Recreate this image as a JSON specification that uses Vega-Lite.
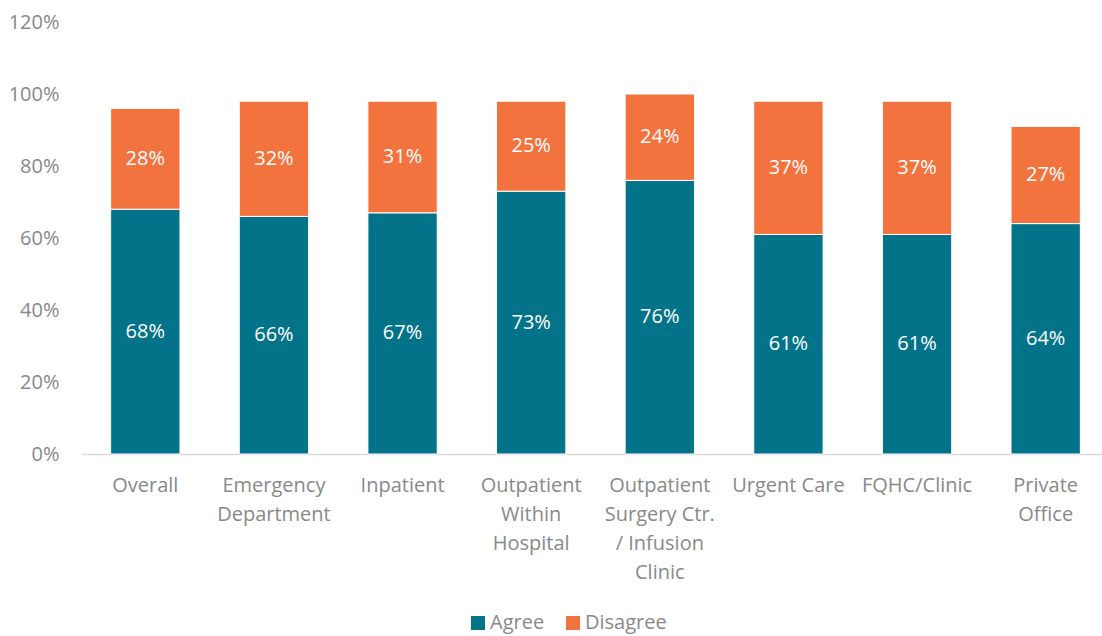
{
  "$schema": "https://vega.github.io/schema/vega-lite/v6.json",
  "autosize": "none",
  "width": 1029,
  "height": 432,
  "padding": {"left": 81, "top": 22, "right": 0, "bottom": 182},
  "background": "white",
  "config": {
    "view": {"stroke": null},
    "font": "Open Sans"
  },
  "data": {
    "values": [
      {"cat": "Overall", "resp": "Agree", "value": 0.68},
      {"cat": "Overall", "resp": "Disagree", "value": 0.28},
      {"cat": "Emergency Department", "resp": "Agree", "value": 0.66},
      {"cat": "Emergency Department", "resp": "Disagree", "value": 0.32},
      {"cat": "Inpatient", "resp": "Agree", "value": 0.67},
      {"cat": "Inpatient", "resp": "Disagree", "value": 0.31},
      {"cat": "Outpatient Within Hospital", "resp": "Agree", "value": 0.73},
      {"cat": "Outpatient Within Hospital", "resp": "Disagree", "value": 0.25},
      {"cat": "Outpatient Surgery Ctr. / Infusion Clinic", "resp": "Agree", "value": 0.76},
      {"cat": "Outpatient Surgery Ctr. / Infusion Clinic", "resp": "Disagree", "value": 0.24},
      {"cat": "Urgent Care", "resp": "Agree", "value": 0.61},
      {"cat": "Urgent Care", "resp": "Disagree", "value": 0.37},
      {"cat": "FQHC/Clinic", "resp": "Agree", "value": 0.61},
      {"cat": "FQHC/Clinic", "resp": "Disagree", "value": 0.37},
      {"cat": "Private Office", "resp": "Agree", "value": 0.64},
      {"cat": "Private Office", "resp": "Disagree", "value": 0.27}
    ]
  },
  "encoding": {
    "x": {
      "field": "cat",
      "type": "nominal",
      "sort": null,
      "scale": {"paddingInner": 0.461, "paddingOuter": 0.2305},
      "axis": {
        "title": null,
        "labelAngle": 0,
        "labelFont": "Open Sans",
        "labelFontSize": 20,
        "labelColor": "#898989",
        "labelLineHeight": 29,
        "labelPadding": 21,
        "labelBaseline": "top",
        "ticks": false,
        "domainColor": "#d9d9d9",
        "domainWidth": 1.5,
        "labelLimit": 300,
        "labelExpr": "datum.label == 'Emergency Department' ? ['Emergency', 'Department'] : datum.label == 'Outpatient Within Hospital' ? ['Outpatient', 'Within', 'Hospital'] : datum.label == 'Outpatient Surgery Ctr. / Infusion Clinic' ? ['Outpatient', 'Surgery Ctr.', '/ Infusion', 'Clinic'] : datum.label == 'Private Office' ? ['Private', 'Office'] : datum.label"
      }
    },
    "y": {
      "field": "value",
      "type": "quantitative",
      "stack": "zero",
      "scale": {"domain": [0, 1.2], "nice": false},
      "axis": {
        "title": null,
        "format": ".0%",
        "values": [0, 0.2, 0.4, 0.6, 0.8, 1.0, 1.2],
        "grid": false,
        "domain": false,
        "ticks": false,
        "labelFont": "Open Sans",
        "labelFontSize": 20,
        "labelColor": "#898989",
        "labelPadding": 22
      }
    },
    "order": {"field": "resp", "type": "nominal", "sort": "ascending"}
  },
  "layer": [
    {
      "mark": {"type": "bar", "stroke": "white", "strokeWidth": 1},
      "encoding": {
        "color": {
          "field": "resp",
          "type": "nominal",
          "scale": {"domain": ["Agree", "Disagree"], "range": ["#03738A", "#F2733D"]},
          "legend": {
            "title": null,
            "orient": "none",
            "direction": "horizontal",
            "legendX": 387,
            "legendY": 591,
            "symbolType": "square",
            "symbolSize": 196,
            "symbolStrokeWidth": 0,
            "labelFont": "Open Sans",
            "labelFontSize": 20,
            "labelColor": "#898989",
            "labelOffset": 2,
            "columnPadding": 18
          }
        }
      }
    },
    {
      "mark": {"type": "text", "color": "white", "fontSize": 20, "font": "Open Sans", "baseline": "middle"},
      "encoding": {
        "y": {"field": "value", "type": "quantitative", "stack": "zero", "bandPosition": 0.5},
        "detail": {"field": "resp"},
        "text": {"field": "value", "type": "quantitative", "format": ".0%"}
      }
    }
  ]
}
